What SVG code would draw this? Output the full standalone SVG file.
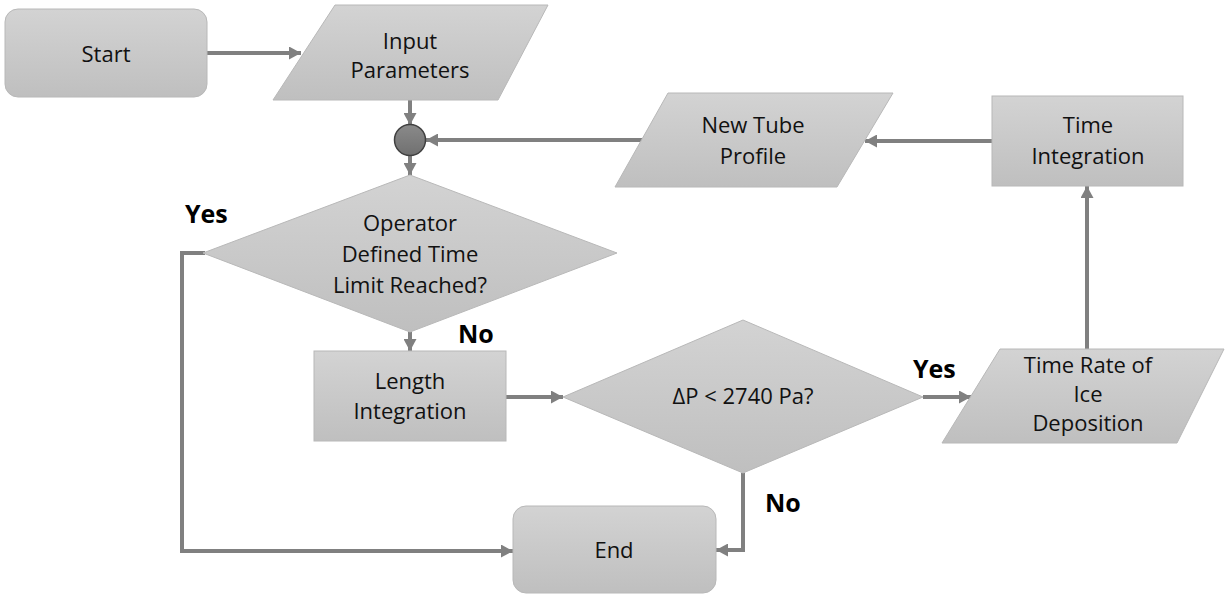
<svg xmlns="http://www.w3.org/2000/svg" width="1225" height="596" viewBox="0 0 1225 596">
<defs>
<linearGradient id="g" x1="0" y1="0" x2="0" y2="1">
<stop offset="0" stop-color="#d3d3d3"/>
<stop offset="1" stop-color="#bfbfbf"/>
</linearGradient>
<linearGradient id="gc" x1="0" y1="0" x2="0" y2="1">
<stop offset="0" stop-color="#8a8a8a"/>
<stop offset="1" stop-color="#707070"/>
</linearGradient>
<marker id="ah" markerUnits="userSpaceOnUse" markerWidth="13" markerHeight="13" refX="12" refY="6.5" orient="auto">
<path d="M0,0 L12,6.5 L0,13 z" fill="#808080"/>
</marker>
<style>
.n{fill:url(#g);stroke:#b8b8b8;stroke-width:1}
.t{font-family:"Open Sans","Liberation Sans",sans-serif;font-size:22px;fill:#111;text-anchor:middle}
.l{font-family:"Open Sans","Liberation Sans",sans-serif;font-size:25px;font-weight:bold;fill:#000}
.c{fill:none;stroke:#808080;stroke-width:4;marker-end:url(#ah)}
</style>
</defs>
<rect width="1225" height="596" fill="#fff"/>
<g id="connectors">
<path class="c" d="M207,53 L301,53"/>
<path class="c" d="M410,100 L410,125"/>
<path class="c" d="M410,156 L410,175"/>
<path class="c" d="M642,140 L426,140"/>
<path class="c" d="M992,141 L865,141"/>
<path class="c" d="M1087,349 L1087,186"/>
<path class="c" d="M923,397 L971,397"/>
<path class="c" d="M506,397 L563,397"/>
<path class="c" d="M410,332 L410,351"/>
<path class="c" d="M205,253 L182,253 L182,551 L513,551"/>
<path class="c" d="M743,473 L743,550 L716,550"/>
</g>
<g id="start">
<rect class="n" x="5" y="9" width="202" height="88" rx="13"/>
<text class="t" x="106" y="62">Start</text>
</g>
<g id="input">
<polygon class="n" points="335,5 548,5 498,100 273,100"/>
<text class="t" x="410" y="49">Input</text>
<text class="t" x="410" y="78">Parameters</text>
</g>
<g id="junction">
<circle cx="410" cy="140" r="15.5" fill="url(#gc)" stroke="#404040" stroke-width="1.5"/>
</g>
<g id="newtube">
<polygon class="n" points="668,93 893,93 837,187 615,187"/>
<text class="t" x="753" y="133">New Tube</text>
<text class="t" x="753" y="164">Profile</text>
</g>
<g id="timeint">
<rect class="n" x="992" y="96" width="191" height="90"/>
<text class="t" x="1088" y="133">Time</text>
<text class="t" x="1088" y="164">Integration</text>
</g>
<g id="decision1">
<polygon class="n" points="410,175 617,253 410,332 203,253"/>
<text class="t" x="410" y="231">Operator</text>
<text class="t" x="410" y="262">Defined Time</text>
<text class="t" x="410" y="293">Limit Reached?</text>
</g>
<g id="length">
<rect class="n" x="314" y="351" width="192" height="90"/>
<text class="t" x="410" y="389">Length</text>
<text class="t" x="410" y="419">Integration</text>
</g>
<g id="decision2">
<polygon class="n" points="743,320 923,397 743,473 563,397"/>
<text class="t" x="743" y="404">ΔP &lt; 2740 Pa?</text>
</g>
<g id="timerate">
<polygon class="n" points="1000,349 1224,349 1177,443 942,443"/>
<text class="t" x="1088" y="373">Time Rate of</text>
<text class="t" x="1088" y="402">Ice</text>
<text class="t" x="1088" y="431">Deposition</text>
</g>
<g id="end">
<rect class="n" x="513" y="506" width="203" height="87" rx="13"/>
<text class="t" x="614" y="558">End</text>
</g>
<g id="labels">
<text class="l" x="185" y="223">Yes</text>
<text class="l" x="458" y="343">No</text>
<text class="l" x="913" y="378">Yes</text>
<text class="l" x="765" y="512">No</text>
</g>
</svg>
